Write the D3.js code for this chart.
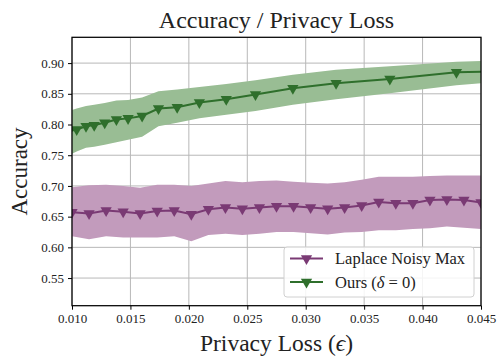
<!DOCTYPE html>
<html>
<head>
<meta charset="utf-8">
<script src="https://cdn.jsdelivr.net/npm/d3@7"></script>
<style>
  body { margin: 0; background: #fff; }
  svg text { font-family: "Liberation Serif", "DejaVu Serif", serif; fill: #222; }
</style>
</head>
<body>
<svg id="chart" width="498" height="356"></svg>
<script>
// Laplace Noisy Max: 25 evenly spaced privacy levels
var lapEps = [0.01, 0.01146, 0.01292, 0.01438, 0.01583, 0.01729, 0.01875, 0.02021, 0.02167,
  0.02313, 0.02458, 0.02604, 0.0275, 0.02896, 0.03042, 0.03188, 0.03333, 0.03479, 0.03625,
  0.03771, 0.03917, 0.04063, 0.04208, 0.04354, 0.045];
var lapMean = [0.657, 0.655, 0.660, 0.658, 0.655, 0.659, 0.660, 0.654, 0.662, 0.665, 0.663, 0.665,
  0.667, 0.667, 0.665, 0.663, 0.665, 0.668, 0.674, 0.672, 0.672, 0.677, 0.678, 0.677, 0.673];
var lapHi = [0.698, 0.701, 0.702, 0.700, 0.697, 0.702, 0.702, 0.700, 0.704, 0.708, 0.706, 0.708,
  0.709, 0.707, 0.705, 0.704, 0.706, 0.710, 0.715, 0.715, 0.715, 0.716, 0.717, 0.717, 0.717];
var lapLo = [0.618, 0.613, 0.618, 0.616, 0.616, 0.616, 0.618, 0.610, 0.620, 0.622, 0.620, 0.622,
  0.625, 0.625, 0.623, 0.621, 0.624, 0.625, 0.628, 0.628, 0.630, 0.631, 0.634, 0.632, 0.630];

// Ours (delta = 0): first and last points fall just outside the x range and get clipped
var oursEps = [0.0097, 0.0104, 0.0112, 0.0119, 0.0128, 0.0138, 0.0148, 0.0160, 0.0174, 0.0190,
  0.0209, 0.0232, 0.0257, 0.0289, 0.0326, 0.0372, 0.0429, 0.0494];
var oursMean = [0.789, 0.792, 0.797, 0.799, 0.803, 0.808, 0.810, 0.814, 0.826, 0.828,
  0.836, 0.841, 0.849, 0.859, 0.867, 0.874, 0.885, 0.888];
var oursHi = [0.822, 0.826, 0.830, 0.832, 0.835, 0.839, 0.840, 0.844, 0.854, 0.857,
  0.861, 0.866, 0.872, 0.881, 0.889, 0.895, 0.902, 0.906];
var oursLo = [0.750, 0.756, 0.762, 0.764, 0.767, 0.771, 0.775, 0.780, 0.797, 0.803,
  0.810, 0.816, 0.822, 0.832, 0.841, 0.851, 0.864, 0.874];

var xTicks = [0.010, 0.015, 0.020, 0.025, 0.030, 0.035, 0.040, 0.045];
var yTicks = [0.55, 0.60, 0.65, 0.70, 0.75, 0.80, 0.85, 0.90];

var series = [
  { name: "Laplace Noisy Max", eps: lapEps, mean: lapMean, lo: lapLo, hi: lapHi, line: "#7a3a74", fill: "#c29bbc" },
  { name: "Ours", eps: oursEps, mean: oursMean, lo: oursLo, hi: oursHi, line: "#2f6f2c", fill: "#99bd94" }
];

var svg = d3.select("#chart");
var pL = 72, pR = 481, pT = 37.3, pB = 305.7;

var x = d3.scaleLinear().domain([0.010, 0.045]).range([pL, pR]);
var y = d3.scaleLinear().domain([0.505, 0.942]).range([pB, pT]);

svg.append("clipPath").attr("id", "clip")
  .append("rect").attr("x", pL).attr("y", pT).attr("width", pR - pL).attr("height", pB - pT);

// grid
var grid = svg.append("g");
grid.selectAll(".gx").data(xTicks).enter().append("line")
  .attr("x1", function (d) { return x(d); }).attr("x2", function (d) { return x(d); })
  .attr("y1", pT).attr("y2", pB)
  .attr("stroke", "#b8b8b8").attr("stroke-width", 1);
grid.selectAll(".gy").data(yTicks).enter().append("line")
  .attr("x1", pL).attr("x2", pR)
  .attr("y1", function (d) { return y(d); }).attr("y2", function (d) { return y(d); })
  .attr("stroke", "#b8b8b8").attr("stroke-width", 1);

var plot = svg.append("g").attr("clip-path", "url(#clip)");
var tri = d3.symbol().type(d3.symbolTriangle).size(55);

series.forEach(function (s) {
  s.pts = s.eps.map(function (e, i) { return { e: e, m: s.mean[i], lo: s.lo[i], hi: s.hi[i] }; });
  var area = d3.area()
    .x(function (d) { return x(d.e); })
    .y0(function (d) { return y(d.lo); })
    .y1(function (d) { return y(d.hi); });
  plot.append("path").datum(s.pts).attr("d", area).attr("fill", s.fill).attr("stroke", "none");
});

series.forEach(function (s) {
  var line = d3.line()
    .x(function (d) { return x(d.e); })
    .y(function (d) { return y(d.m); });
  plot.append("path").datum(s.pts).attr("d", line)
    .attr("fill", "none").attr("stroke", s.line).attr("stroke-width", 2);
  plot.selectAll(null).data(s.pts).enter().append("path")
    .attr("d", tri)
    .attr("transform", function (d) { return "translate(" + x(d.e) + "," + y(d.m) + ") rotate(180)"; })
    .attr("fill", s.line);
});

// axes
var xAxis = d3.axisBottom(x).tickValues(xTicks).tickFormat(d3.format(".3f")).tickSize(4).tickPadding(4);
var yAxis = d3.axisLeft(y).tickValues(yTicks).tickFormat(d3.format(".2f")).tickSize(4).tickPadding(4);
var gx = svg.append("g").attr("transform", "translate(0," + pB + ")").call(xAxis);
var gy = svg.append("g").attr("transform", "translate(" + pL + ",0)").call(yAxis);
[gx, gy].forEach(function (g) {
  g.select(".domain").remove();
  g.selectAll(".tick line").attr("stroke", "#000").attr("stroke-width", 1);
  g.selectAll(".tick text").attr("font-size", 13).attr("fill", "#222")
    .attr("font-family", "Liberation Serif, serif");
});

svg.append("rect").attr("x", pL).attr("y", pT)
  .attr("width", pR - pL).attr("height", pB - pT)
  .attr("fill", "none").attr("stroke", "#000").attr("stroke-width", 1.25);

// legend
var lg = svg.append("g").attr("transform", "translate(284,247)");
lg.append("rect").attr("width", 190).attr("height", 50).attr("rx", 3)
  .attr("fill", "#fff").attr("fill-opacity", 0.85).attr("stroke", "#d0d0d0");
series.forEach(function (s, i) {
  var ly = 11.5 + i * 23.5;
  lg.append("line").attr("x1", 6).attr("x2", 39).attr("y1", ly).attr("y2", ly)
    .attr("stroke", s.line).attr("stroke-width", 2);
  lg.append("path").attr("d", tri).attr("transform", "translate(22.5," + ly + ") rotate(180)").attr("fill", s.line);
  var t = lg.append("text").attr("x", 51).attr("y", ly + 5.5).attr("font-size", 16.5);
  if (i === 0) {
    t.text(s.name);
  } else {
    t.append("tspan").text("Ours (");
    t.append("tspan").attr("font-style", "italic").text("δ");
    t.append("tspan").text(" = 0)");
  }
});

// titles
svg.append("text").attr("x", (pL + pR) / 2).attr("y", 28).attr("text-anchor", "middle")
  .attr("font-size", 24).text("Accuracy / Privacy Loss");
var xl = svg.append("text").attr("x", (pL + pR) / 2).attr("y", 351).attr("text-anchor", "middle")
  .attr("font-size", 23.5);
xl.append("tspan").text("Privacy Loss (");
xl.append("tspan").attr("font-style", "italic").text("ϵ");
xl.append("tspan").text(")");
svg.append("text").attr("transform", "translate(27," + (pT + pB) / 2 + ") rotate(-90)")
  .attr("text-anchor", "middle").attr("font-size", 23).text("Accuracy");
</script>
</body>
</html>
